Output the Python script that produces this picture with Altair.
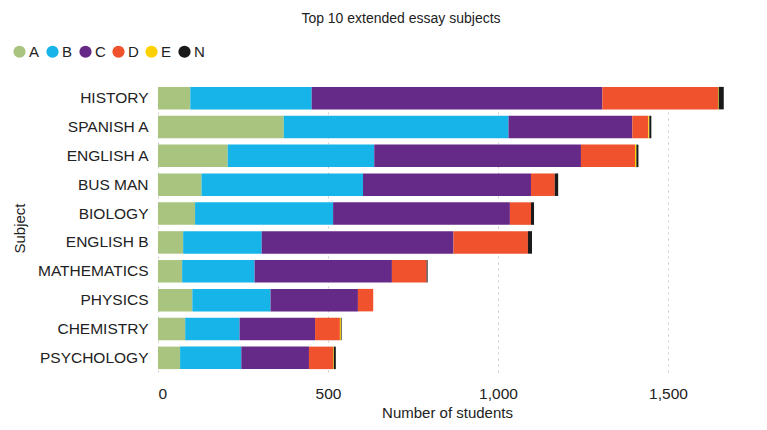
import altair as alt
import pandas as pd

subjects = ["HISTORY", "SPANISH A", "ENGLISH A", "BUS MAN", "BIOLOGY",
            "ENGLISH B", "MATHEMATICS", "PHYSICS", "CHEMISTRY", "PSYCHOLOGY"]
grades = ["A", "B", "C", "D", "E", "N"]
grade_A = [95, 370, 205, 128, 109, 74, 71, 101, 80, 65]
grade_B = [357, 661, 431, 475, 406, 231, 213, 230, 160, 180]
grade_C = [855, 364, 608, 494, 520, 564, 404, 257, 222, 199]
grade_D = [340, 47, 159, 70, 62, 219, 102, 45, 73, 71]
grade_E = [2, 3, 4, 0, 0, 0, 0, 0, 3, 2]
grade_N = [15, 6, 6, 10, 9, 12, 3, 0, 2, 6]
colors = ["#a9c47f", "#16b4e8", "#652987", "#ef522c", "#fdd100", "#1a1a1a"]

series = [grade_A, grade_B, grade_C, grade_D, grade_E, grade_N]
rows = []
for gi, (g, vals) in enumerate(zip(grades, series)):
    for s, v in zip(subjects, vals):
        rows.append({"Subject": s, "Grade": g, "Students": v, "order": gi})
df = pd.DataFrame(rows)

FONT = "Liberation Sans"
FS = 15.5

chart = alt.Chart(df).mark_bar(strokeWidth=0).encode(
    y=alt.Y("Subject:N", sort=subjects, title="Subject",
            scale=alt.Scale(paddingInner=0.22, paddingOuter=0.1),
            axis=alt.Axis(domain=False, ticks=False, labelPadding=10,
                          labelFontSize=FS, labelColor="#222",
                          titleFontSize=15, titleColor="#222",
                          titleFontWeight="normal", titlePadding=10,
                          labelFont=FONT, titleFont=FONT)),
    x=alt.X("Students:Q", stack="zero", title="Number of students",
            scale=alt.Scale(domain=[0, 1700], nice=False),
            axis=alt.Axis(values=[0, 500, 1000, 1500], format=",.0f",
                          domain=False, ticks=False, grid=True,
                          gridDash=[2, 4], gridColor="#cccccc",
                          labelPadding=14, labelFontSize=FS, labelColor="#222",
                          titleFontSize=15, titleColor="#222",
                          titleFontWeight="normal", titlePadding=4,
                          labelFont=FONT, titleFont=FONT)),
    color=alt.Color("Grade:N", sort=grades,
                    scale=alt.Scale(domain=grades, range=colors),
                    legend=alt.Legend(title=None, orient="none",
                                      legendX=-146, legendY=-40,
                                      direction="horizontal",
                                      symbolType="circle", symbolSize=150,
                                      symbolStrokeWidth=0,
                                      labelFontSize=15, labelColor="#222",
                                      labelFont=FONT, labelOffset=2,
                                      columnPadding=5)),
    order=alt.Order("order:Q", sort="ascending"),
).properties(
    width=578, height=288,
    title=alt.TitleParams("Top 10 extended essay subjects", anchor="middle",
                          dx=-46, fontSize=14, fontWeight="normal",
                          font=FONT, color="#222", offset=18),
    padding={"left": 150, "top": 76, "right": 20, "bottom": 58},
    autosize=alt.AutoSizeParams(type="none"),
).configure_view(stroke=None)

chart.save("out.html", embed_options={"renderer": "svg", "actions": False})
